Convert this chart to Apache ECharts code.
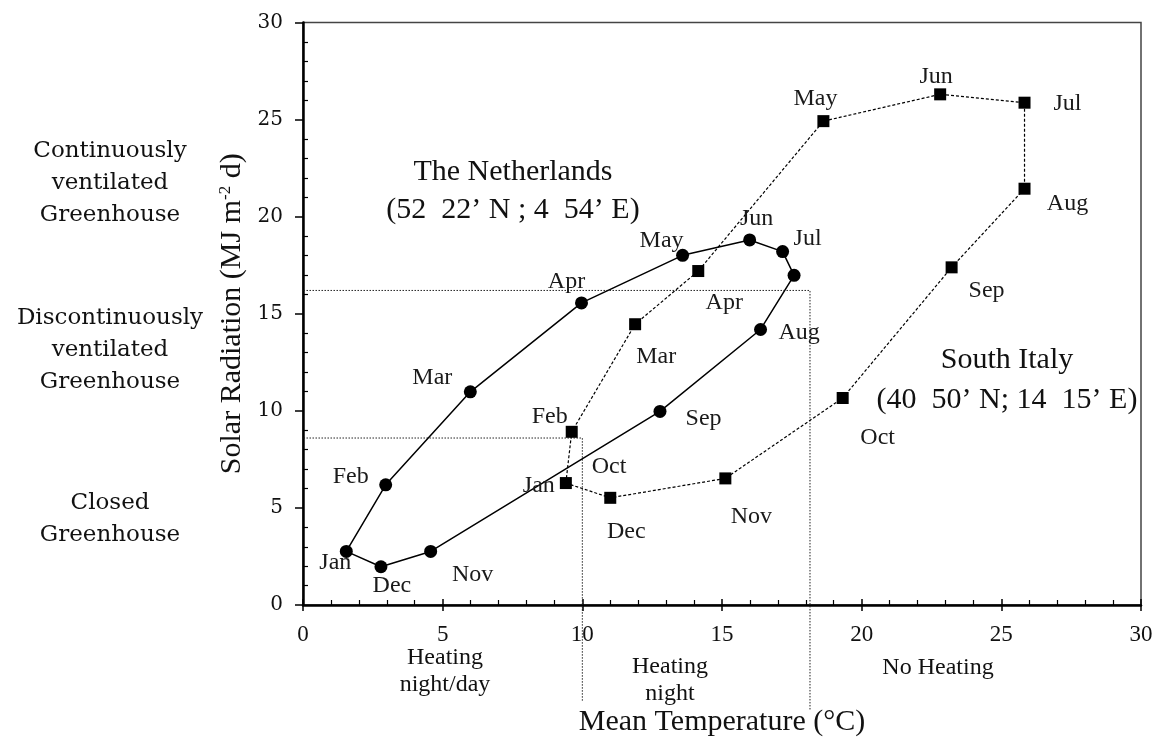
<!DOCTYPE html>
<html><head><meta charset="utf-8">
<script src="https://cdn.jsdelivr.net/npm/echarts@6/dist/echarts.min.js"></script>
<style>html,body{margin:0;padding:0;background:#fff}#c{width:1158px;height:742px}</style>
</head><body><div id="c"></div>
<script>
// ---------- data ----------
const months = ['Jan','Feb','Mar','Apr','May','Jun','Jul','Aug','Sep','Oct','Nov','Dec'];
const nlTemp = [1.55, 2.96, 5.99, 9.97, 13.59, 15.99, 17.17, 17.58, 16.38, 12.78, 4.57, 2.79];
const nlRad  = [2.76, 6.19, 10.98, 15.56, 18.01, 18.80, 18.20, 16.98, 14.19, 9.97, 2.76, 1.97];
const itTemp = [9.41, 9.62, 11.89, 14.15, 18.63, 22.81, 25.83, 25.83, 23.22, 19.32, 15.12, 11.00];
const itRad  = [6.28, 8.92, 14.46, 17.20, 24.92, 26.30, 25.87, 21.44, 17.39, 10.66, 6.52, 5.52];
const xTicks = [0, 5, 10, 15, 20, 25, 30];
const yTicks = [0, 5, 10, 15, 20, 25, 30];
const heatingLimits = [10.0, 18.15];      // mean temperature thresholds (°C)
const ventilationLimits = [8.6, 16.2];    // solar radiation thresholds

// ---------- styles (label placement in px) ----------
const nlLabelOffsets = [[-11,11],[-35,-8],[-38,-14],[-15,-21],[-21,-15],[7,-21],[25,-13],[5,57],[-57,89],[-51,55],[42,23],[11,19]];
const itLabelOffsets = [[-27,3],[-22,-15],[21,32],[26,32],[-8,-22],[-4,-18],[43,1],[43,15],[35,23],[35,40],[26,38],[16,34]];
const SERIF = "'Liberation Serif', 'Times New Roman', serif";
const WIDE = "'DejaVu Serif', serif";
const INK = '#111';

function loop(xs, ys){ const d = xs.map((x,i)=>[x, ys[i]]); d.push([xs[0], ys[0]]); return d; }
function pts(xs, ys, offs){ return xs.map((x,i)=>({value:[x, ys[i]], name: months[i], label:{offset: offs[i]}})); }

const leftExt = -10.4;
const thresholdLines = [
  [[leftExt, ventilationLimits[1]], [heatingLimits[1], ventilationLimits[1]], [heatingLimits[1], -5.39]],
  [[leftExt, ventilationLimits[0]], [heatingLimits[0], ventilationLimits[0]], [heatingLimits[0], -4.93]]
];

const monthLabel = {show:true, position:'inside', formatter:'{b}', fontFamily:SERIF, fontSize:24, color:'#1a1a1a', align:'center', verticalAlign:'middle', opacity:1};

const chart = echarts.init(document.getElementById('c'), null, {renderer:'canvas'});
const xMin = xTicks[0], xMax = xTicks[xTicks.length-1], xInt = xTicks[1]-xTicks[0];
const yMin = yTicks[0], yMax = yTicks[yTicks.length-1], yInt = yTicks[1]-yTicks[0];

chart.setOption({
  animation:false,
  backgroundColor:'#fff',
  grid:{left:303, right:17, top:22.5, bottom:135, show:true, borderColor:'#444', borderWidth:1.5, backgroundColor:'transparent'},
  xAxis:[{
    type:'value', min:xMin, max:xMax, interval:xInt, position:'bottom',
    axisLine:{show:true, onZero:false, lineStyle:{color:'#000', width:2.5}},
    axisTick:{show:true, inside:false, length:6, lineStyle:{color:'#000', width:1.5}},
    axisLabel:{fontFamily:SERIF, fontSize:23, color:INK, margin:18},
    splitLine:{show:false},
    name:'Mean Temperature (°C)', nameLocation:'middle', nameGap:102,
    nameTextStyle:{fontFamily:SERIF, fontSize:30, color:INK}
  },{
    type:'value', min:xMin, max:xMax, interval:xInt, position:'bottom',
    axisLine:{show:false, onZero:false},
    axisTick:{show:true, inside:true, length:6, lineStyle:{color:'#000', width:1.5}},
    minorTick:{show:true, splitNumber:5, length:5, lineStyle:{color:'#000', width:1.2}},
    axisLabel:{show:false}, splitLine:{show:false}, minorSplitLine:{show:false}
  }],
  yAxis:[{
    type:'value', min:yMin, max:yMax, interval:yInt, position:'left',
    axisLine:{show:true, onZero:false, lineStyle:{color:'#000', width:2.5}},
    axisTick:{show:true, inside:false, length:8, lineStyle:{color:'#000', width:1.5}},
    axisLabel:{fontFamily:WIDE, fontSize:20, color:INK, margin:20},
    splitLine:{show:false},
    name:'{a|Solar Radiation (MJ m}{s|-2}{a| d)}', nameLocation:'middle', nameGap:48,
    nameTextStyle:{fontFamily:SERIF, fontSize:30, color:INK,
      rich:{a:{fontFamily:SERIF, fontSize:30, color:INK}, s:{fontFamily:SERIF, fontSize:17, color:INK, verticalAlign:'top'}}}
  },{
    type:'value', min:yMin, max:yMax, interval:yInt, position:'left',
    axisLine:{show:false, onZero:false},
    axisTick:{show:false, inside:true},
    minorTick:{show:true, splitNumber:5, length:5, lineStyle:{color:'#000', width:1.2}},
    axisLabel:{show:false}, splitLine:{show:false}, minorSplitLine:{show:false}
  }],
  series:[
    {type:'line', name:'thr-upper', data:thresholdLines[0], showSymbol:false, symbol:'none', clip:false, silent:true,
      lineStyle:{color:'#222', width:1, type:[1.5,1.5]}, z:1},
    {type:'line', name:'thr-lower', data:thresholdLines[1], showSymbol:false, symbol:'none', clip:false, silent:true,
      lineStyle:{color:'#222', width:1, type:[1.5,1.5]}, z:1},
    {type:'line', name:'The Netherlands', data:loop(nlTemp, nlRad), showSymbol:false, symbol:'none',
      lineStyle:{color:'#000', width:1.5}, z:2},
    {type:'line', name:'South Italy', data:loop(itTemp, itRad), showSymbol:false, symbol:'none',
      lineStyle:{color:'#000', width:1.2, type:[3,2]}, z:2},
    {type:'scatter', name:'NL months', data:pts(nlTemp, nlRad, nlLabelOffsets), symbol:'circle', symbolSize:13,
      itemStyle:{color:'#000', opacity:1}, label:monthLabel, z:3},
    {type:'scatter', name:'IT months', data:pts(itTemp, itRad, itLabelOffsets), symbol:'rect', symbolSize:12,
      itemStyle:{color:'#000', opacity:1}, label:monthLabel, z:3}
  ],
  graphic:[
    {type:'text', x:110, y:183.5, style:{text:'Continuously\nventilated\nGreenhouse', font:"23px 'DejaVu Serif'", fill:INK, align:'center', verticalAlign:'middle', lineHeight:32}},
    {type:'text', x:110, y:350, style:{text:'Discontinuously\nventilated\nGreenhouse', font:"23px 'DejaVu Serif'", fill:INK, align:'center', verticalAlign:'middle', lineHeight:32}},
    {type:'text', x:110, y:519, style:{text:'Closed\nGreenhouse', font:"23px 'DejaVu Serif'", fill:INK, align:'center', verticalAlign:'middle', lineHeight:32}},
    {type:'text', x:445, y:671, style:{text:'Heating\nnight/day', font:"24px 'Liberation Serif'", fill:INK, align:'center', verticalAlign:'middle', lineHeight:27}},
    {type:'text', x:670, y:680, style:{text:'Heating\nnight', font:"24px 'Liberation Serif'", fill:INK, align:'center', verticalAlign:'middle', lineHeight:27}},
    {type:'text', x:938, y:668, style:{text:'No Heating', font:"24px 'Liberation Serif'", fill:INK, align:'center', verticalAlign:'middle'}},
    {type:'text', x:513, y:191, style:{text:'The Netherlands\n(52  22’ N ; 4  54’ E)', font:"30px 'Liberation Serif'", fill:INK, align:'center', verticalAlign:'middle', lineHeight:38}},
    {type:'text', x:1007, y:380, style:{text:'South Italy\n(40  50’ N; 14  15’ E)', font:"30px 'Liberation Serif'", fill:INK, align:'center', verticalAlign:'middle', lineHeight:40}}
  ]
});
</script></body></html>
